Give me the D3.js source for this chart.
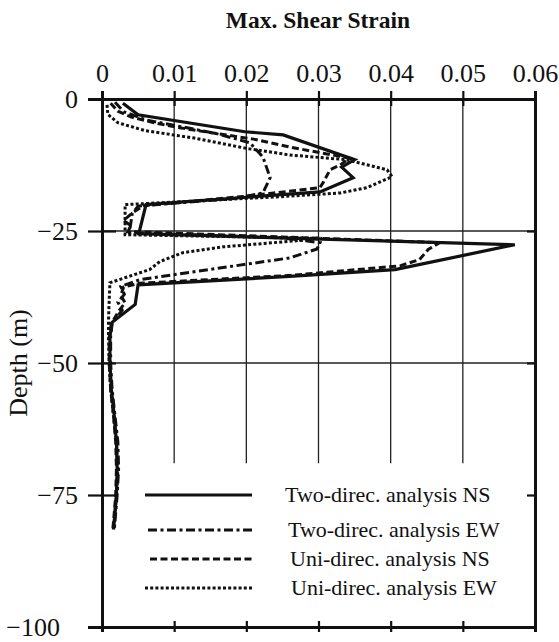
<!DOCTYPE html>
<html>
<head>
<meta charset="utf-8">
<script src="https://cdn.jsdelivr.net/npm/d3@7"></script>
<style>
	body { margin: 0; background: #fff; }
	svg text { font-family: "Liberation Serif", "Times New Roman", serif; fill: #111; }
</style>
</head>
<body>
<div id="chart"></div>
<script>
// x ticks (strain) and y ticks (depth, m)
var strainTicks = [0, 0.01, 0.02, 0.03, 0.04, 0.05, 0.06];
var depthTicks = [0, -25, -50, -75, -100];

var seriesNames = [
	"Two-direc. analysis NS",
	"Two-direc. analysis EW",
	"Uni-direc. analysis NS",
	"Uni-direc. analysis EW"
];

// [depth, strain]
var twoDirecNS = [
	[-0.8, 0.0029], [-3.0, 0.0050], [-6.2, 0.0198], [-6.8, 0.0251], [-11.5, 0.0350],
	[-12.9, 0.0332], [-14.9, 0.0348], [-17.6, 0.0302], [-18.7, 0.0191], [-20.0, 0.0061],
	[-25.5, 0.0051], [-27.6, 0.0572], [-32.3, 0.0406], [-33.6, 0.0260], [-35.2, 0.0050],
	[-38.9, 0.0046], [-42.3, 0.0014], [-45, 0.0011], [-50, 0.0011], [-55, 0.0013],
	[-60, 0.0017], [-65, 0.0020], [-70, 0.0021], [-75, 0.0020], [-80, 0.0017], [-81.5, 0.0016]
];

var twoDirecEW = [
	[-0.6, 0.0018], [-2.4, 0.0030], [-4.0, 0.0062], [-5.3, 0.0112], [-6.6, 0.0160],
	[-8.3, 0.0205], [-11.0, 0.0223], [-14.9, 0.0233], [-17.8, 0.0223], [-18.8, 0.0185],
	[-20.3, 0.0050], [-21.6, 0.0042], [-25.3, 0.0038], [-26.3, 0.0250], [-27.2, 0.0302],
	[-28.4, 0.0298], [-30.1, 0.0260], [-34.2, 0.0053], [-35.5, 0.0026], [-37, 0.0031],
	[-38.5, 0.0022], [-40, 0.0028], [-42.5, 0.0014], [-45, 0.0012], [-50, 0.0012],
	[-55, 0.0014], [-60, 0.0018], [-65, 0.0022], [-70, 0.0023], [-75, 0.0021],
	[-80, 0.0018], [-81.5, 0.0017]
];

var uniDirecNS = [
	[-0.8, 0.0012], [-2.3, 0.0022], [-3.4, 0.0040], [-4.6, 0.0075], [-5.5, 0.0110],
	[-6.4, 0.0152], [-7.6, 0.0210], [-9.1, 0.0260], [-11.2, 0.0343], [-12.5, 0.0330],
	[-13.4, 0.0316], [-15.7, 0.0307], [-16.8, 0.0302], [-18.4, 0.0200], [-20.2, 0.0058],
	[-21.5, 0.0043], [-23.0, 0.0030], [-24.0, 0.0040], [-25.1, 0.0036], [-27.2, 0.0468],
	[-28.5, 0.0452], [-30.4, 0.0440], [-31.6, 0.0413], [-33.4, 0.0262], [-34.9, 0.0052],
	[-35.6, 0.0030], [-37.2, 0.0026], [-38.6, 0.0032], [-40.2, 0.0023], [-42.5, 0.0013],
	[-45, 0.0010], [-50, 0.0010], [-55, 0.0012], [-60, 0.0016], [-65, 0.0019],
	[-70, 0.0020], [-75, 0.0019], [-80, 0.0016], [-81.5, 0.0015]
];

var uniDirecEW = [
	[-1.1, 0.0007], [-2.9, 0.0008], [-4.5, 0.0022], [-6.0, 0.0060], [-7.4, 0.0128],
	[-9.3, 0.0198], [-10.6, 0.0260], [-11.5, 0.0339], [-13.4, 0.0395], [-14.7, 0.0402],
	[-16.8, 0.0367], [-17.8, 0.0330], [-18.5, 0.0247], [-20.0, 0.0032], [-25.7, 0.0032],
	[-26.4, 0.0305], [-26.9, 0.0265], [-28.0, 0.0168], [-29.1, 0.0112], [-30.8, 0.0080],
	[-32.3, 0.0066], [-34.8, 0.0011], [-38, 0.0010], [-42, 0.0009], [-45, 0.0009],
	[-50, 0.0010], [-55, 0.0012], [-60, 0.0016], [-65, 0.0020], [-70, 0.0022],
	[-75, 0.0020], [-80, 0.0017], [-81.5, 0.0016]
];

var W = 559, H = 642;

var x = d3.scaleLinear().domain([0, 0.06]).range([102, 535]);
var y = d3.scaleLinear().domain([0, -100]).range([99, 627]);

var svg = d3.select("#chart").append("svg")
	.attr("width", W)
	.attr("height", H);

// grid
var grid = svg.append("g").attr("stroke", "#222").attr("stroke-width", 1.3);
grid.selectAll(".vgrid")
	.data(strainTicks.slice(1, -1))
	.enter().append("line")
	.attr("x1", function(d) { return x(d); })
	.attr("x2", function(d) { return x(d); })
	.attr("y1", y(0))
	.attr("y2", y(-69));
grid.selectAll(".hgrid")
	.data([-25, -50])
	.enter().append("line")
	.attr("x1", x(0))
	.attr("x2", x(0.06))
	.attr("y1", function(d) { return y(d); })
	.attr("y2", function(d) { return y(d); });

// top axis
var topAxis = svg.append("g")
	.attr("transform", "translate(0," + y(0) + ")")
	.call(d3.axisTop(x).tickValues(strainTicks).tickSize(8).tickPadding(9)
		.tickFormat(function(d) { return d === 0 ? "0" : d3.format(".2f")(d); }));

// bottom axis
var bottomAxis = svg.append("g")
	.attr("transform", "translate(0," + y(-100) + ")")
	.call(d3.axisBottom(x).tickValues(strainTicks).tickSize(5).tickFormat(""));

// left axis
var leftAxis = svg.append("g")
	.attr("transform", "translate(" + x(0) + ",0)")
	.call(d3.axisLeft(y).tickValues(depthTicks).tickSize(14).tickPadding(10)
		.tickFormat(function(d) { return d === 0 ? "0" : "\u2212" + Math.abs(d); }));

// right axis
var rightAxis = svg.append("g")
	.attr("transform", "translate(" + x(0.06) + ",0)")
	.call(d3.axisRight(y).tickValues(depthTicks).tickSize(-8).tickFormat(""));

[topAxis, bottomAxis, leftAxis, rightAxis].forEach(function(g) {
	g.select(".domain").attr("stroke", "#111").attr("stroke-width", 3);
	g.selectAll(".tick line").attr("stroke", "#111").attr("stroke-width", 2.2);
	g.selectAll(".tick text").style("font-size", "26px").attr("fill", "#111");
});
// ticks crossing the frame
topAxis.selectAll(".tick line").attr("y1", 7);
bottomAxis.selectAll(".tick line").attr("y1", -6);
leftAxis.selectAll(".tick line").attr("x1", 14);
topAxis.selectAll(".tick text").attr("dy", "0");
leftAxis.selectAll(".tick text").attr("dy", "0.34em");
// the -100 label sits further left in the original
leftAxis.selectAll(".tick text")
	.filter(function(d) { return d === -100; })
	.attr("x", -42);

// titles
svg.append("text")
	.attr("x", 318)
	.attr("y", 28)
	.attr("text-anchor", "middle")
	.style("font-size", "23.5px")
	.style("font-weight", "bold")
	.text("Max. Shear Strain");

svg.append("text")
	.attr("transform", "translate(27," + y(-50) + ") rotate(-90)")
	.attr("text-anchor", "middle")
	.style("font-size", "26px")
	.text("Depth (m)");

// curves
var styles = [
	{ data: twoDirecNS, dash: null, width: 3.2 },
	{ data: twoDirecEW, dash: "9,3.5,3,3.5", width: 3 },
	{ data: uniDirecNS, dash: "7,3.5", width: 3 },
	{ data: uniDirecEW, dash: "3,2.2", width: 3 }
];

var line = d3.line()
	.x(function(d) { return x(d[1]); })
	.y(function(d) { return y(d[0]); });

svg.append("g")
	.selectAll(".curve")
	.data(styles)
	.enter().append("path")
	.attr("class", "curve")
	.attr("d", function(d) { return line(d.data); })
	.attr("fill", "none")
	.attr("stroke", "#111")
	.attr("stroke-width", function(d) { return d.width; })
	.attr("stroke-dasharray", function(d) { return d.dash; })
	.attr("stroke-linejoin", "miter");

// legend
var legendY = [495, 530, 559, 588];
var legend = svg.append("g");
legend.selectAll(".lg-line")
	.data(styles)
	.enter().append("line")
	.attr("x1", function(d, i) { return [145, 148, 150, 145][i]; })
	.attr("x2", 252)
	.attr("y1", function(d, i) { return legendY[i]; })
	.attr("y2", function(d, i) { return legendY[i]; })
	.attr("stroke", "#111")
	.attr("stroke-width", function(d) { return d.width; })
	.attr("stroke-dasharray", function(d) { return d.dash; });
legend.selectAll(".lg-text")
	.data(seriesNames)
	.enter().append("text")
	.attr("x", function(d, i) { return [285, 288, 290, 291][i]; })
	.attr("y", function(d, i) { return legendY[i] + 7; })
	.style("font-size", "22px")
	.text(function(d) { return d; });
</script>
</body>
</html>
